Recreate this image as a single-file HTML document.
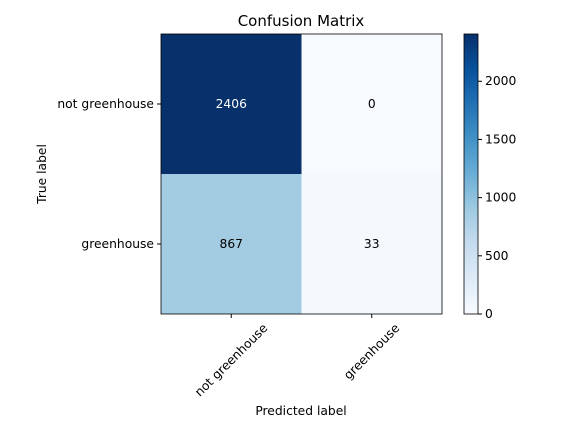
<!DOCTYPE html>
<html><head><meta charset="utf-8"><style>
body{margin:0;background:#fff;}
svg text{font-family:"DejaVu Sans","Liberation Sans",sans-serif;font-size:12.3px;fill:#000;}
</style></head><body>
<svg id="c" width="583" height="435" xmlns="http://www.w3.org/2000/svg">
<defs><linearGradient id="g" x1="0" y1="1" x2="0" y2="0">
<stop offset="0" stop-color="#f7fbff"/><stop offset="0.125" stop-color="#deebf7"/><stop offset="0.25" stop-color="#c6dbef"/><stop offset="0.375" stop-color="#9ecae1"/><stop offset="0.5" stop-color="#6baed6"/><stop offset="0.625" stop-color="#4292c6"/><stop offset="0.75" stop-color="#2171b5"/><stop offset="0.875" stop-color="#08519c"/><stop offset="1" stop-color="#08306b"/></linearGradient></defs>
<text x="301" y="26" text-anchor="middle" style="font-size:15px">Confusion Matrix</text>
<g id="cells"></g>
<rect x="161" y="34" width="281" height="280" fill="none" stroke="#000" stroke-width="0.8"/>
<rect x="464" y="34" width="14" height="280" fill="url(#g)" stroke="#000" stroke-width="0.8"/>
<g id="cbticks"></g>
<g id="axes"></g>
<text x="301" y="415" text-anchor="middle">Predicted label</text>
<text transform="translate(46,174) rotate(-90)" text-anchor="middle">True label</text>
</svg>
<script>
const labels=["not greenhouse","greenhouse"];
const matrix=[[2406,0],[867,33]];
const cbTicks=[0,500,1000,1500,2000];
const NS="http://www.w3.org/2000/svg";
const L=161,T=34,W=281,H=280;
const vmax=Math.max(...matrix.flat()),vmin=Math.min(...matrix.flat());
const stops=["#f7fbff","#deebf7","#c6dbef","#9ecae1","#6baed6","#4292c6","#2171b5","#08519c","#08306b"].map(h=>[1,3,5].map(i=>parseInt(h.substr(i,2),16)));
function cmap(v){let t=(v-vmin)/(vmax-vmin)*8;let i=Math.min(7,Math.floor(t));let f=t-i;
 const c=stops[i].map((a,k)=>Math.round(a+(stops[i+1][k]-a)*f));return `rgb(${c.join(',')})`;}
const n=labels.length,cw=W/n,ch=H/n;
function mk(tag,attrs,parent){const e=document.createElementNS(NS,tag);for(const k in attrs)e.setAttribute(k,attrs[k]);document.getElementById(parent).appendChild(e);return e;}
matrix.forEach((row,r)=>row.forEach((v,c)=>{
 const rc=mk('rect',{x:L+c*cw,y:T+r*ch,width:cw,height:ch,fill:cmap(v)},'cells');
 
 
 const t=mk('text',{x:L+(c+.5)*cw,y:T+(r+.5)*ch+4,'text-anchor':'middle'},'cells');
 t.textContent=v;t.style.fill=v>vmax/2?'#fff':'#000';
 
 
}));
labels.forEach((lab,i)=>{
 const y=T+(i+.5)*ch;
 mk('line',{x1:L-4,x2:L,y1:y,y2:y,stroke:'#000'},'axes');
 const t=mk('text',{x:L-7,y:y+4,'text-anchor':'end'},'axes');t.textContent=lab;
 
 
 const x=L+(i+.5)*cw;
 mk('line',{x1:x,x2:x,y1:T+H,y2:T+H+4,stroke:'#000'},'axes');
 const t2=mk('text',{'text-anchor':'middle','dominant-baseline':'central'},'axes');t2.textContent=lab;
 const len=t2.getComputedTextLength();
 const cy=T+H+8+len/2*0.707+4;
 t2.setAttribute('transform',`translate(${x},${cy}) rotate(-45)`);
 
 
});
cbTicks.forEach(v=>{
 const y=T+H-(v-vmin)/(vmax-vmin)*H;
 mk('line',{x1:478,x2:482,y1:y,y2:y,stroke:'#000'},'cbticks');
 const t=mk('text',{x:485,y:y+4},'cbticks');t.textContent=v;
 
 
});
</script>
</body></html>
